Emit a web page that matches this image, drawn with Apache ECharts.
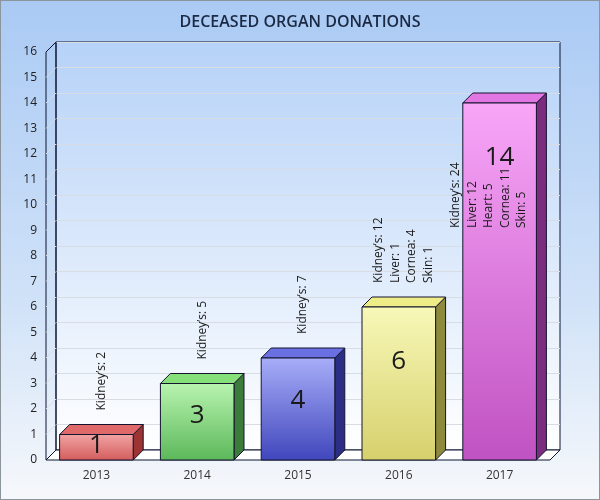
<!DOCTYPE html>
<html lang="en">
<head>
  <meta charset="UTF-8">
  <title>Deceased organ donations</title>
  <style>
    html, body { margin: 0; padding: 0; }
    #chart {
      width: 598px;
      height: 498px;
      border: 1px solid #8c949c;
    }
  </style>
  <script src="https://cdn.jsdelivr.net/npm/echarts@6/dist/echarts.min.js"></script>
</head>
<body>
  <div id="chart"></div>
  <script>
    var years = ['2013', '2014', '2015', '2016', '2017'];
    var donations = [1, 3, 4, 6, 14];
    var organNotes = [
      "Kidney’s: 2",
      "Kidney’s: 5",
      "Kidney’s: 7",
      "Kidney’s: 12\nLiver: 1\nCornea: 4\nSkin: 1",
      "Kidney’s: 24\nLiver: 12\nHeart: 5\nCornea: 11\nSkin: 5"
    ];
    var yTicks = [0, 16, 1];

    // front top, front bottom, top face, side face
    var barColors = [
      ['#f2a4a4', '#d35c5c', '#e06a6a', '#9c3434'],
      ['#b8f4b0', '#5cb85a', '#86e07a', '#3c7c3a'],
      ['#a8aef8', '#4046bc', '#6a70e2', '#2c2e86'],
      ['#f8f8b8', '#d6d06c', '#eeec86', '#8e8a3c'],
      ['#f8a6f8', '#c052c2', '#e276e2', '#7c2c7e']
    ];

    var DEPTH = 10;
    var FONT = '"Open Sans", "Noto Sans", sans-serif';

    var chart = echarts.init(document.getElementById('chart'));

    function frame(params, api) {
      var o = api.coord([0, 0]);
      var half = api.size([1, 0])[0] / 2;
      var x0 = o[0] - half;
      var x1 = api.coord([years.length - 1, 0])[0] + half;
      var y0 = o[1];
      var yTop = api.coord([0, yTicks[1]])[1];
      var kids = [];
      // floor
      kids.push({
        type: 'polygon',
        shape: { points: [[x0, y0], [x1, y0], [x1 + DEPTH, y0 - DEPTH], [x0 + DEPTH, y0 - DEPTH]] },
        style: { fill: '#ffffff', stroke: '#0c1433', lineWidth: 1 }
      });
      // left wall
      kids.push({
        type: 'polygon',
        shape: { points: [[x0, y0], [x0, yTop], [x0 + DEPTH, yTop - DEPTH], [x0 + DEPTH, y0 - DEPTH]] },
        style: { fill: 'rgba(0,0,0,0)', stroke: '#0c1433', lineWidth: 1 }
      });
      for (var v = yTicks[0] + 1; v < yTicks[1]; v += yTicks[2]) {
        var y = api.coord([0, v])[1];
        kids.push({
          type: 'line',
          shape: { x1: x0, y1: y, x2: x0 + DEPTH, y2: y - DEPTH },
          style: { stroke: '#d8dde4', lineWidth: 1 }
        });
      }
      return { type: 'group', children: kids };
    }

    function bar(params, api) {
      var i = api.value(0);
      var v = api.value(1);
      var base = api.coord([i, 0]);
      var top = api.coord([i, v]);
      var w = api.size([1, 0])[0] * 0.73;
      var xl = base[0] - w / 2;
      var xr = base[0] + w / 2;
      var yb = base[1];
      var yt = top[1];
      var c = barColors[i];
      var h = yb - yt;
      return {
        type: 'group',
        children: [
          {
            type: 'polygon',
            shape: { points: [[xr, yb], [xr, yt], [xr + DEPTH, yt - DEPTH], [xr + DEPTH, yb - DEPTH]] },
            style: { fill: c[3], stroke: '#14142e', lineWidth: 1 }
          },
          {
            type: 'polygon',
            shape: { points: [[xl, yt], [xr, yt], [xr + DEPTH, yt - DEPTH], [xl + DEPTH, yt - DEPTH]] },
            style: { fill: c[2], stroke: '#14142e', lineWidth: 1 }
          },
          {
            type: 'rect',
            shape: { x: xl, y: yt, width: w, height: h },
            style: {
              fill: new echarts.graphic.LinearGradient(0, 0, 0, 1, [
                { offset: 0, color: c[0] },
                { offset: 1, color: c[1] }
              ]),
              stroke: '#14142e',
              lineWidth: 1
            }
          },
          {
            type: 'text',
            x: base[0],
            y: yt + Math.min(h * 0.42, 55),
            style: {
              text: String(v),
              font: '26px ' + FONT,
              fill: '#1a1a1a',
              align: 'center',
              verticalAlign: 'middle'
            }
          }
        ]
      };
    }

    function note(params, api) {
      var i = api.value(0);
      var v = api.value(1);
      var base = api.coord([i, 0]);
      var top = api.coord([i, v]);
      var text = organNotes[i];
      var lines = text.split('\n');
      var longest = 0;
      lines.forEach(function (l) { longest = Math.max(longest, l.length); });
      var need = longest * 6.2;
      var gridTop = api.coord([0, yTicks[1]])[1];
      var x = base[0] + 5;
      var y = top[1] - DEPTH - 14;
      if (y - need < gridTop) {
        // no room above the bar: write it inside
        x = base[0] - 11;
        y = top[1] + 125;
      }
      return {
        type: 'text',
        x: x,
        y: y,
        rotation: Math.PI / 2,
        style: {
          text: text,
          font: '12px ' + FONT,
          fill: '#1a1a1a',
          align: 'left',
          verticalAlign: 'middle',
          lineHeight: 16.5
        }
      };
    }

    var barData = donations.map(function (d, i) { return [i, d]; });

    var option = {
      backgroundColor: new echarts.graphic.LinearGradient(0, 0, 0, 1, [
        { offset: 0, color: '#aacaf4' },
        { offset: 0.6, color: '#d0e2f8' },
        { offset: 1, color: '#f6f8fb' }
      ]),
      title: {
        text: 'DECEASED ORGAN DONATIONS',
        left: 'center',
        top: 8,
        textStyle: { fontFamily: FONT, fontSize: 16, fontWeight: 600, color: '#1b2a44' }
      },
      grid: [
        { left: 45, right: 49, top: 51, bottom: 39 },
        {
          left: 55, right: 39, top: 41, bottom: 49, show: true,
          borderColor: '#0c1433', borderWidth: 1,
          backgroundColor: new echarts.graphic.LinearGradient(0, 0, 0, 1, [
            { offset: 0, color: '#b6d2f8' },
            { offset: 1, color: '#ffffff' }
          ])
        }
      ],
      xAxis: [
        {
          type: 'category', gridIndex: 0, data: years,
          axisLine: { show: false }, axisTick: { show: false },
          axisLabel: { fontFamily: FONT, fontSize: 12, color: '#333', margin: 10 }
        },
        { type: 'category', gridIndex: 1, data: years, show: false }
      ],
      yAxis: [
        {
          type: 'value', gridIndex: 0, min: yTicks[0], max: yTicks[1], interval: yTicks[2],
          axisLine: { show: false }, axisTick: { show: false }, splitLine: { show: false },
          axisLabel: { fontFamily: FONT, fontSize: 12, color: '#222', margin: 9 }
        },
        {
          type: 'value', gridIndex: 1, min: yTicks[0], max: yTicks[1], interval: yTicks[2],
          axisLine: { show: false }, axisTick: { show: false }, axisLabel: { show: false },
          splitLine: { lineStyle: { color: '#d8dde4', width: 1 } }
        }
      ],
      series: [
        {
          type: 'custom', xAxisIndex: 0, yAxisIndex: 0,
          data: [[0, 0]], renderItem: frame, silent: true, z: 1
        },
        {
          type: 'custom', xAxisIndex: 0, yAxisIndex: 0,
          data: barData, renderItem: bar, z: 2
        },
        {
          type: 'custom', xAxisIndex: 0, yAxisIndex: 0,
          data: barData, renderItem: note, silent: true, z: 3
        }
      ]
    };

    chart.setOption(option);
  </script>
</body>
</html>
